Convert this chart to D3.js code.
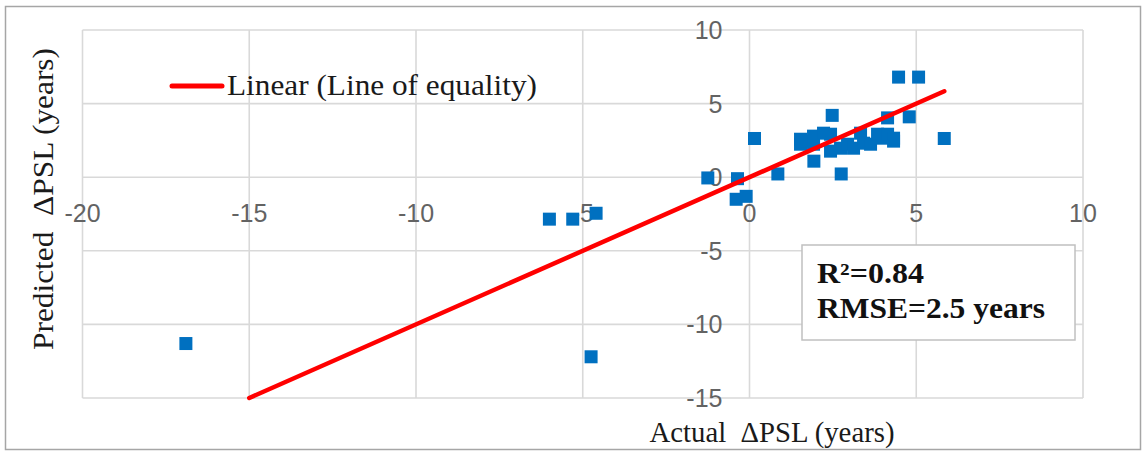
<!DOCTYPE html>
<html>
<head>
<meta charset="utf-8">
<script src="https://cdn.jsdelivr.net/npm/d3@7"></script>
<style>
  html, body { margin: 0; padding: 0; background: #fff; }
  svg { display: block; }
  text { white-space: pre; }
</style>
</head>
<body>
<svg id="chart" width="1148" height="452"></svg>
<script>
// Actual vs predicted change in PSL (years)
const actual = [
  -16.9, -6.0, -5.3, -4.6, -4.75, -1.25, -0.36, -0.4, -0.1, 0.15, 0.85,
  1.93, 2.48, 2.75, 4.14, 4.79, 4.47, 5.07, 5.84,
  1.53, 1.53, 1.74, 1.92, 1.92, 2.22, 2.43, 2.43, 2.73, 2.94, 3.12,
  3.33, 3.42, 3.63, 3.84, 3.93, 4.14, 4.32, 4.32
];
const predicted = [
  -11.3, -2.85, -2.85, -2.45, -12.2, -0.05, -0.1, -1.5, -1.3, 2.63, 0.22,
  1.09, 4.2, 0.22, 4.03, 4.1, 6.8, 6.8, 2.63,
  2.58, 2.24, 2.45, 2.79, 2.24, 2.99, 2.92, 1.77, 1.97, 2.24, 1.97,
  2.99, 2.31, 2.24, 2.92, 2.65, 2.92, 2.65, 2.45
];
// Line of equality endpoints (y = x)
const equalityLine = [-15, 5.84];

const xTicks = [-20, -15, -10, -5, 0, 5, 10];
const yTicks = [-15, -10, -5, 0, 5, 10];

const legendLabel = "Linear (Line of equality)";
const statLines = ["R²=0.84", "RMSE=2.5 years"];
const xTitle = "Actual  ΔPSL (years)";
const yTitle = "Predicted  ΔPSL (years)";

const svg = d3.select("#chart");
const x = d3.scaleLinear().domain([-20, 10]).range([82.5, 1083]);
const y = d3.scaleLinear().domain([-15, 10]).range([398, 30]);

const serif = "'Liberation Serif', 'Times New Roman', serif";
const sans = "'Liberation Sans', Arial, sans-serif";

// outer frame
svg.append("rect")
  .attr("x", 5.5).attr("y", 6.5).attr("width", 1135).attr("height", 443)
  .attr("fill", "#fff").attr("stroke", "#a6a6a6").attr("stroke-width", 1.5);

// gridlines
const grid = svg.append("g").attr("stroke", "#d9d9d9").attr("stroke-width", 1.6);
grid.selectAll("line.v").data(xTicks).join("line")
  .attr("x1", d => x(d)).attr("x2", d => x(d))
  .attr("y1", y(10)).attr("y2", y(-15));
grid.selectAll("line.h").data(yTicks).join("line")
  .attr("x1", x(-20)).attr("x2", x(10))
  .attr("y1", d => y(d)).attr("y2", d => y(d));

// tick labels: x labels sit below the horizontal zero axis, y labels left of the vertical one
const tickStyle = g => g.attr("font-family", sans).attr("font-size", 25).attr("fill", "#636363");
svg.append("g").call(tickStyle).attr("text-anchor", "middle")
  .selectAll("text").data(xTicks).join("text")
  .attr("x", d => x(d)).attr("y", y(0) + 45)
  .text(d => d);
svg.append("g").call(tickStyle).attr("text-anchor", "end")
  .selectAll("text").data(yTicks).join("text")
  .attr("x", x(0) - 27).attr("y", d => y(d) + 9)
  .text(d => d);

// data points
const pts = actual.map((a, i) => [a, predicted[i]]);
const sq = 13;
svg.append("g").attr("fill", "#0070c0")
  .selectAll("rect").data(pts).join("rect")
  .attr("x", d => x(d[0]) - sq / 2).attr("y", d => y(d[1]) - sq / 2)
  .attr("width", sq).attr("height", sq);

// line of equality
svg.append("line")
  .attr("x1", x(equalityLine[0])).attr("y1", y(equalityLine[0]))
  .attr("x2", x(equalityLine[1])).attr("y2", y(equalityLine[1]))
  .attr("stroke", "#ff0000").attr("stroke-width", 4.5).attr("stroke-linecap", "round");

// legend
svg.append("line")
  .attr("x1", 172).attr("x2", 222).attr("y1", 86).attr("y2", 86)
  .attr("stroke", "#ff0000").attr("stroke-width", 5).attr("stroke-linecap", "round");
svg.append("text")
  .attr("x", 227).attr("y", 95)
  .attr("font-family", serif).attr("font-size", 30).attr("fill", "#1a1a1a")
  .attr("textLength", 310).attr("lengthAdjust", "spacingAndGlyphs")
  .text(legendLabel);

// statistics box
const statWidths = [107, 228];
svg.append("rect")
  .attr("x", 802).attr("y", 245).attr("width", 273).attr("height", 95)
  .attr("fill", "#fff").attr("stroke", "#c0c0c0").attr("stroke-width", 1.5);
svg.append("g")
  .attr("font-family", serif).attr("font-size", 29).attr("font-weight", "bold").attr("fill", "#111")
  .selectAll("text").data(statLines).join("text")
  .attr("x", 817).attr("y", (d, i) => 283 + i * 35)
  .attr("textLength", (d, i) => statWidths[i]).attr("lengthAdjust", "spacingAndGlyphs")
  .text(d => d);

// axis titles
svg.append("text")
  .attr("x", 772).attr("y", 442).attr("text-anchor", "middle")
  .attr("font-family", serif).attr("font-size", 29).attr("fill", "#1a1a1a")
  .attr("textLength", 245).attr("lengthAdjust", "spacingAndGlyphs")
  .text(xTitle);
svg.append("text")
  .attr("transform", "translate(53,199) rotate(-90)").attr("text-anchor", "middle")
  .attr("font-family", serif).attr("font-size", 29).attr("fill", "#1a1a1a")
  .attr("textLength", 302).attr("lengthAdjust", "spacingAndGlyphs")
  .text(yTitle);
</script>
</body>
</html>
